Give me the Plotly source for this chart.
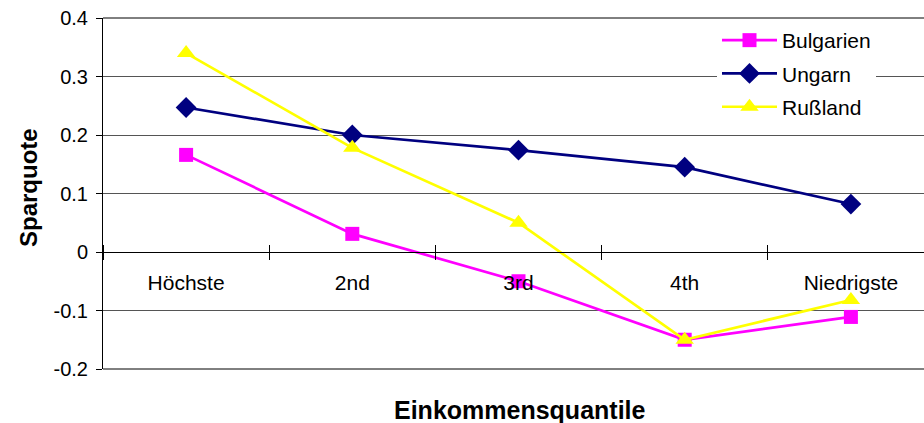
import plotly.graph_objects as go

categories = ["Höchste", "2nd", "3rd", "4th", "Niedrigste"]
bulgarien = [0.166, 0.031, -0.050, -0.150, -0.111]
ungarn = [0.247, 0.200, 0.174, 0.145, 0.082]
russland = [0.340, 0.178, 0.050, -0.150, -0.082]
y_ticks = [-0.2, -0.1, 0, 0.1, 0.2, 0.3, 0.4]
y_ticktext = ["-0.2", "-0.1", "0", "0.1", "0.2", "0.3", "0.4"]

FONT = "Liberation Sans, Arial, sans-serif"
W, H = 924, 423
L, R, T, B = 103, 0, 18, 54

fig = go.Figure()
series = [
    ("Bulgarien", bulgarien, "#FF00FF", "square", 14),
    ("Ungarn", ungarn, "#000080", "diamond", 16),
    ("Rußland", russland, "#FFFF00", "triangle-up", 16),
]
for i, (name, vals, col, sym, size) in enumerate(series):
    fig.add_trace(go.Scatter(
        x=categories, y=vals, name=name, mode="lines+markers",
        line=dict(color=col, width=2.7),
        marker=dict(color=col, symbol=sym, size=size, line=dict(width=0)),
        legendgroup=f"g{i}", cliponaxis=False,
    ))

# dummy trace so the upper tick set renders
fig.add_trace(go.Scatter(x=categories, y=[None] * len(categories), xaxis="x2",
                         showlegend=False, hoverinfo="skip"))

yfrac = (0 - y_ticks[0]) / (y_ticks[-1] - y_ticks[0])
xr = [-0.5, -0.5 + (W - L) / 166.2]

common_x = dict(type="category", categoryorder="array", categoryarray=categories,
                range=xr, anchor="free", position=yfrac, tickson="boundaries",
                ticks="outside", ticklen=7, tickcolor="black", tickwidth=1,
                showgrid=False, zeroline=False, automargin=False)

fig.update_layout(
    template="none",
    width=W, height=H,
    margin=dict(l=L, r=R, t=T, b=B, autoexpand=False),
    paper_bgcolor="white", plot_bgcolor="white",
    font=dict(family=FONT, size=20, color="black"),
    xaxis=dict(**common_x, showline=True, linecolor="black", linewidth=1,
               tickfont=dict(family=FONT, size=21, color="black"),
               ticklabelstandoff=12),
    xaxis2=dict(**common_x, overlaying="x", side="top", showline=False,
                showticklabels=False),
    yaxis=dict(range=[y_ticks[0], y_ticks[-1]], tickvals=y_ticks, ticktext=y_ticktext,
               showgrid=True, gridcolor="#555555", gridwidth=1, zeroline=False,
               showline=True, linecolor="black", linewidth=1,
               ticks="outside", ticklen=6, tickcolor="black", automargin=False,
               tickfont=dict(family=FONT, size=20, color="black"),
               ticklabelstandoff=4),
    legend=dict(x=(717 - L) / (W - L), y=1 - 2 / 351, xanchor="left", yanchor="top",
                bgcolor="white", borderwidth=0, tracegroupgap=3,
                traceorder="grouped", itemwidth=55,
                font=dict(family=FONT, size=21, color="black")),
    showlegend=True,
    shapes=[
        dict(type="line", xref="paper", yref="paper", x0=0, x1=1, y0=0, y1=0,
             line=dict(color="black", width=1)),
        dict(type="line", xref="paper", yref="paper", x0=0, x1=1, y0=1, y1=1,
             line=dict(color="black", width=1)),
    ],
    annotations=[
        dict(text="<b>Einkommensquantile</b>", xref="paper", yref="paper",
             x=(520 - L) / (W - L), y=(369 - 410) / 351, xanchor="center",
             yanchor="middle", showarrow=False,
             font=dict(family=FONT, size=25, color="black")),
        dict(text="<b>Sparquote</b>", xref="paper", yref="paper",
             x=(28 - L) / (W - L), y=(369 - 188) / 351, xanchor="center",
             yanchor="middle", textangle=-90, showarrow=False,
             font=dict(family=FONT, size=24, color="black")),
    ],
)

fig.write_html("out.html",
               config={"displayModeBar": False},
               post_script="document.body.style.margin='0px';"
                           "document.body.style.padding='0px';"
                           "document.body.style.overflow='hidden';")
